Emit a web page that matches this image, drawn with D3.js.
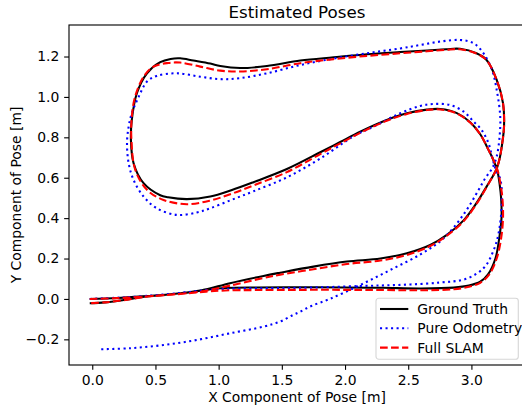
<!DOCTYPE html>
<html>
<head>
<meta charset="utf-8">
<script src="https://cdn.jsdelivr.net/npm/d3@7"></script>
<style>
  body { margin: 0; background: #fff; }
  text { font-family: "DejaVu Sans", sans-serif; }
</style>
</head>
<body>
<div id="chart"></div>
<script>
// pose tracks, [x, y] in metres
var groundTruth = [
  [-0.02, 0.0], [0.2, 0.005], [0.43, 0.014], [0.7, 0.028], [0.9, 0.045], [1.05, 0.054],
  [1.3, 0.057], [1.65, 0.058], [2.0, 0.057], [2.3, 0.055], [2.6, 0.052], [2.86, 0.056],
  [2.98, 0.066], [3.07, 0.085], [3.13, 0.12], [3.19, 0.2], [3.22, 0.3], [3.238, 0.4],
  [3.235, 0.5], [3.225, 0.56], [3.205, 0.635], [3.165, 0.7], [3.135, 0.738], [3.07, 0.815],
  [2.99, 0.875], [2.885, 0.92], [2.753, 0.94], [2.647, 0.937], [2.49, 0.919], [2.33, 0.886],
  [2.12, 0.828], [1.962, 0.777], [1.804, 0.726], [1.54, 0.643], [1.276, 0.578], [1.1, 0.538],
  [0.934, 0.507], [0.749, 0.494], [0.6, 0.503], [0.538, 0.513], [0.406, 0.573],
  [0.327, 0.672], [0.306, 0.787], [0.313, 0.886], [0.353, 1.018], [0.433, 1.117], [0.538, 1.172],
  [0.62, 1.188], [0.696, 1.191], [0.8, 1.18], [0.934, 1.165], [1.013, 1.153], [1.17, 1.143],
  [1.382, 1.153], [1.646, 1.18], [1.91, 1.196], [2.173, 1.211], [2.437, 1.222], [2.65, 1.23],
  [2.8, 1.236], [2.91, 1.238], [3.04, 1.216], [3.12, 1.183], [3.2, 1.084], [3.25, 0.969],
  [3.258, 0.853], [3.24, 0.754], [3.225, 0.7], [3.2, 0.645], [3.16, 0.597], [3.12, 0.556],
  [3.04, 0.474], [2.94, 0.39], [2.806, 0.317], [2.674, 0.267], [2.49, 0.226], [2.28, 0.2],
  [2.015, 0.185], [1.75, 0.16], [1.487, 0.13], [1.355, 0.114], [1.09, 0.078], [0.854, 0.041],
  [0.6, 0.022], [0.43, 0.012], [0.25, -0.005], [0.1, -0.017], [-0.02, -0.021]
];

var pureOdometry = [
  [-0.02, 0.0], [0.2, 0.006], [0.43, 0.015], [0.7, 0.03], [0.9, 0.044], [1.05, 0.05],
  [1.3, 0.053], [1.65, 0.055], [2.12, 0.064], [2.45, 0.07], [2.75, 0.081], [2.96, 0.1],
  [3.1, 0.155], [3.175, 0.24], [3.215, 0.325], [3.24, 0.474], [3.23, 0.589], [3.19, 0.645],
  [3.163, 0.705], [3.135, 0.771], [3.08, 0.837], [3.017, 0.878], [2.94, 0.927], [2.83, 0.96],
  [2.7, 0.965], [2.595, 0.955], [2.437, 0.919], [2.226, 0.853], [2.067, 0.805], [1.804, 0.695],
  [1.54, 0.602], [1.276, 0.533], [1.1, 0.49], [0.93, 0.448], [0.828, 0.428], [0.67, 0.416],
  [0.51, 0.449], [0.406, 0.507], [0.327, 0.589], [0.288, 0.672], [0.275, 0.771], [0.288, 0.853],
  [0.313, 0.919], [0.367, 1.0], [0.433, 1.076], [0.51, 1.104], [0.67, 1.117], [0.854, 1.1],
  [1.013, 1.088], [1.17, 1.093], [1.382, 1.117], [1.646, 1.158], [1.91, 1.19], [2.173, 1.216],
  [2.437, 1.24], [2.595, 1.257], [2.753, 1.274], [2.91, 1.282], [3.017, 1.266], [3.096, 1.216],
  [3.163, 1.134], [3.2, 1.035], [3.228, 0.903], [3.223, 0.804], [3.2, 0.705], [3.163, 0.645],
  [3.11, 0.598], [3.057, 0.54], [2.94, 0.42], [2.78, 0.3], [2.6, 0.222], [2.36, 0.144],
  [2.12, 0.069], [1.88, 0.0], [1.733, -0.035], [1.646, -0.063], [1.59, -0.079], [1.487, -0.112],
  [1.355, -0.137], [1.09, -0.17], [0.828, -0.203], [0.564, -0.228], [0.3, -0.244], [0.063, -0.249]
];

var fullSlam = [
  [-0.02, 0.0], [0.2, 0.004], [0.43, 0.012], [0.7, 0.025], [0.9, 0.036], [1.05, 0.042],
  [1.3, 0.044], [1.65, 0.045], [2.0, 0.045], [2.3, 0.044], [2.6, 0.043], [2.86, 0.048],
  [2.98, 0.06], [3.07, 0.08], [3.14, 0.12], [3.2, 0.2], [3.235, 0.3], [3.25, 0.4],
  [3.245, 0.5], [3.232, 0.56], [3.208, 0.635], [3.165, 0.7], [3.135, 0.738], [3.07, 0.815],
  [2.99, 0.873], [2.885, 0.918], [2.753, 0.938], [2.647, 0.935], [2.49, 0.916], [2.33, 0.882],
  [2.12, 0.822], [1.962, 0.77], [1.804, 0.717], [1.54, 0.628], [1.276, 0.562], [1.1, 0.52],
  [0.934, 0.487], [0.749, 0.469], [0.564, 0.49], [0.433, 0.54], [0.34, 0.64],
  [0.31, 0.787], [0.313, 0.903], [0.34, 1.003], [0.406, 1.1], [0.485, 1.15], [0.6, 1.168],
  [0.696, 1.17], [0.854, 1.15], [1.013, 1.13], [1.17, 1.126], [1.382, 1.137], [1.646, 1.167],
  [1.91, 1.187], [2.173, 1.203], [2.437, 1.216], [2.65, 1.226], [2.8, 1.233], [2.91, 1.236],
  [3.04, 1.215], [3.12, 1.182], [3.2, 1.084], [3.25, 0.969], [3.258, 0.853], [3.24, 0.754],
  [3.225, 0.7], [3.2, 0.645], [3.16, 0.597], [3.12, 0.553], [3.04, 0.47], [2.94, 0.386],
  [2.806, 0.313], [2.674, 0.262], [2.49, 0.218], [2.28, 0.19], [2.015, 0.173], [1.75, 0.147],
  [1.487, 0.12], [1.355, 0.104], [1.09, 0.066], [0.854, 0.036], [0.6, 0.02], [0.43, 0.011],
  [0.25, -0.006], [0.1, -0.017], [-0.02, -0.021]
];

var xTicks = [0.0, 0.5, 1.0, 1.5, 2.0, 2.5, 3.0];
var yTicks = [-0.2, 0.0, 0.2, 0.4, 0.6, 0.8, 1.0, 1.2];
var seriesNames = ["Ground Truth", "Pure Odometry", "Full SLAM"];

var margin = {left: 69, right: -3, top: 25, bottom: 45};
var width = 522 - margin.left - margin.right;
var height = 410 - margin.top - margin.bottom;

var svg = d3.select("#chart").append("svg")
    .attr("width", 522)
    .attr("height", 410)
  .append("g")
    .attr("transform", "translate(" + margin.left + "," + margin.top + ")");

var xScale = d3.scaleLinear().domain([-0.184, 3.424]).range([0, width]);
var yScale = d3.scaleLinear().domain([-0.327, 1.356]).range([height, 0]);

svg.append("clipPath").attr("id", "clip")
  .append("rect").attr("width", width).attr("height", height);

var styles = [
  {color: "#000000", dash: null},
  {color: "#0000ff", dash: "2.08,3.44"},
  {color: "#ff0000", dash: "7.7,3.33"}
];

var valueline = d3.line()
  .x(d => xScale(d[0]))
  .y(d => yScale(d[1]))
  .curve(d3.curveCatmullRom);

[groundTruth, pureOdometry, fullSlam].forEach(function(track, i) {
  svg.append("path")
    .datum(track)
    .attr("clip-path", "url(#clip)")
    .attr("d", valueline)
    .attr("fill", "none")
    .attr("stroke", styles[i].color)
    .attr("stroke-width", 2.08)
    .attr("stroke-dasharray", styles[i].dash);
});

var fmt = d3.format(".1f");

var xAxis = svg.append("g")
  .attr("transform", "translate(0," + height + ")")
  .call(d3.axisBottom(xScale).tickValues(xTicks).tickFormat(fmt)
    .tickSize(4.86).tickSizeOuter(0).tickPadding(4.86));
var yAxis = svg.append("g")
  .call(d3.axisLeft(yScale).tickValues(yTicks).tickFormat(fmt)
    .tickSize(4.86).tickSizeOuter(0).tickPadding(4.86));

[xAxis, yAxis].forEach(function(ax) {
  ax.select(".domain").remove();
  ax.selectAll(".tick line").attr("stroke", "#000").attr("stroke-width", 1.11);
  ax.selectAll(".tick text").attr("fill", "#000").style("font-size", "13.9px")
    .style("font-family", "DejaVu Sans");
});

// spines
svg.append("rect")
  .attr("width", width).attr("height", height)
  .attr("fill", "none").attr("stroke", "#000").attr("stroke-width", 1.11);

svg.append("text")
  .attr("x", 297 - margin.left).attr("y", 17.5 - margin.top)
  .attr("text-anchor", "middle")
  .style("font-size", "16.7px")
  .text("Estimated Poses");

svg.append("text")
  .attr("x", 297 - margin.left).attr("y", 401.5 - margin.top)
  .attr("text-anchor", "middle")
  .style("font-size", "13.9px")
  .text("X Component of Pose [m]");

svg.append("text")
  .attr("transform", "translate(" + (20.5 - margin.left) + "," + (height / 2) + ") rotate(-90)")
  .attr("text-anchor", "middle")
  .style("font-size", "13.9px")
  .text("Y Component of Pose [m]");

// legend
var legend = svg.append("g")
  .attr("transform", "translate(" + (376 - margin.left) + "," + (298.3 - margin.top) + ")");
legend.append("rect")
  .attr("width", 142.3).attr("height", 61)
  .attr("rx", 2.8)
  .attr("fill", "#fff").attr("fill-opacity", 0.8)
  .attr("stroke", "#cccccc").attr("stroke-opacity", 0.8).attr("stroke-width", 1.11);

seriesNames.forEach(function(name, i) {
  var yy = 10.7 + i * 19.3;
  legend.append("line")
    .attr("x1", 4).attr("x2", 32.3).attr("y1", yy).attr("y2", yy)
    .attr("stroke", styles[i].color).attr("stroke-width", 2.08)
    .attr("stroke-dasharray", styles[i].dash);
  legend.append("text")
    .attr("x", 41.3).attr("y", yy + 5)
    .style("font-size", "13.9px")
    .text(name);
});
</script>
</body>
</html>
